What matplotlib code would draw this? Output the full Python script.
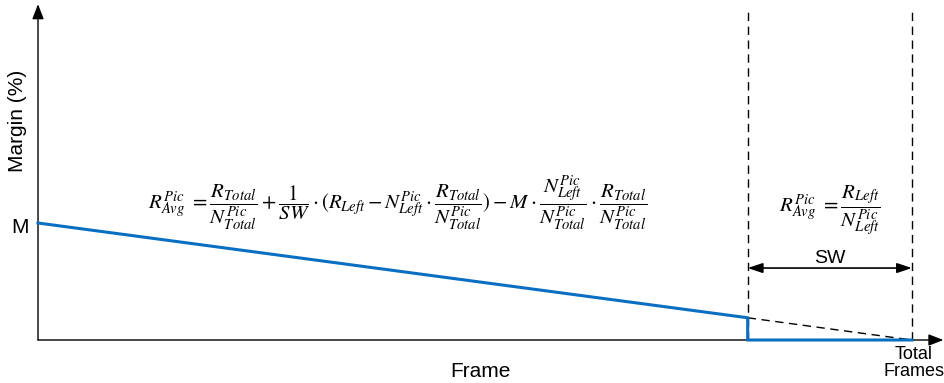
import matplotlib
matplotlib.use("Agg")
import matplotlib.pyplot as plt

plt.rcParams['font.family'] = ['Liberation Sans', 'DejaVu Sans']
plt.rcParams['mathtext.fontset'] = 'stix'

# Data (frame units: total frames = 100, margin units: M = 1)
total_frames = 100.0
sw_start = 81.2
M = 1.0
margin_x = [0.0, 81.2, 81.2, 100.0]
margin_y = [1.0, 0.19, 0.0, 0.0]
dash_x = [81.2, 100.0]
dash_y = [0.19, 0.0]
sw_y = 0.615

fig = plt.figure(figsize=(9.45, 3.83), dpi=100)
ax = fig.add_axes([0, 0, 1, 1])
ax.set_xlim(-4.35, 103.78)
ax.set_ylim(-0.3675, 2.906)
ax.axis('off')

blue = '#0A6FC2'

# axes with arrows
ax.annotate('', xy=(0, 2.87), xytext=(0, 0),
            arrowprops=dict(arrowstyle='-|>,head_length=0.9,head_width=0.35', color='black', lw=1.0,
                            shrinkA=0, shrinkB=0))
ax.annotate('', xy=(103.6, 0), xytext=(0, 0),
            arrowprops=dict(arrowstyle='-|>,head_length=0.9,head_width=0.35', color='black', lw=1.0,
                            shrinkA=0, shrinkB=0))

# vertical dashed lines
for xv in [sw_start, total_frames]:
    ax.plot([xv, xv], [0, 2.84], color='black', lw=1.0, ls=(0, (6, 4)), zorder=1)

# dashed continuation
ax.plot(dash_x, dash_y, color='black', lw=1.0, ls=(0, (6, 4)), zorder=1)

# blue margin line
ax.plot(margin_x, margin_y, color=blue, lw=2.2, solid_joinstyle='miter', zorder=3)

# SW double arrow
ax.annotate('', xy=(sw_start, sw_y), xytext=(total_frames, sw_y),
            arrowprops=dict(arrowstyle='<|-|>,head_length=0.9,head_width=0.3', color='black', lw=1.2,
                            shrinkA=0, shrinkB=0))
ax.text((sw_start + total_frames) / 2, 0.695, 'SW', ha='center', va='center', fontsize=14)

# labels
ax.text(-2.1, 0.965, 'M', ha='center', va='center', fontsize=15)
ax.text(-2.3, 1.87, 'Margin (%)', ha='center', va='center', rotation=90, fontsize=15)
ax.text(50.6, -0.27, 'Frame', ha='center', va='center', fontsize=15)
ax.text(100.2, -0.2, 'Total\nFrames', ha='center', va='center', fontsize=13, linespacing=1.0)

f1 = (r'$R^{Pic}_{Avg}\ =\dfrac{R_{Total}}{N^{Pic}_{Total}}+\dfrac{1}{SW}\cdot(R_{Left}-N^{Pic}_{Left}\cdot'
      r'\dfrac{R_{Total}}{N^{Pic}_{Total}})-M\cdot\dfrac{N^{Pic}_{Left}}{N^{Pic}_{Total}}\cdot'
      r'\dfrac{R_{Total}}{N^{Pic}_{Total}}$')
ax.text(41.2, 1.17, f1, ha='center', va='center', fontsize=15)

f2 = r'$R^{Pic}_{Avg}\ =\dfrac{R_{Left}}{N^{Pic}_{Left}}$'
ax.text(90.6, 1.115, f2, ha='center', va='center', fontsize=15)

fig.savefig('out.png', dpi=100)
